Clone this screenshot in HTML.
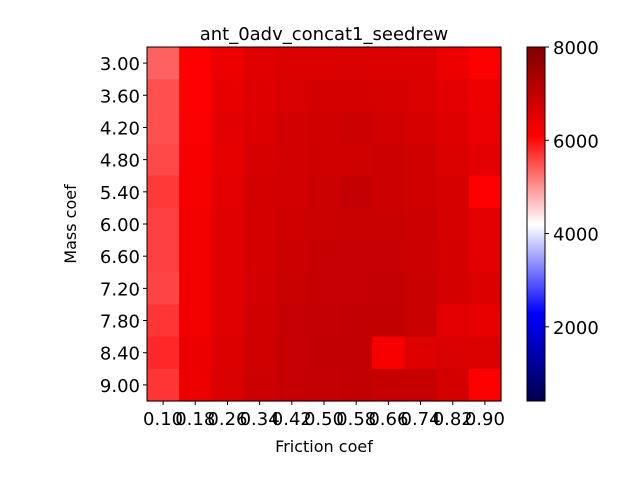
<!DOCTYPE html>
<html><head><meta charset="utf-8"><style>
body{margin:0;background:#fff;}
svg text{font-family:"DejaVu Sans","Liberation Sans",sans-serif;}
</style></head><body>
<svg id="chart" width="640" height="480" xmlns="http://www.w3.org/2000/svg">
<rect width="640" height="480" fill="#fff"/>
<g id="cells"></g>
<g id="axes"></g>
</svg>
<script>
const xLabels=["0.10","0.18","0.26","0.34","0.42","0.50","0.58","0.66","0.74","0.82","0.90"];
const yLabels=["3.00","3.60","4.20","4.80","5.40","6.00","6.60","7.20","7.80","8.40","9.00"];
const cbTicks=[2000,4000,6000,8000];
const vmin=409, vmax=8000;
const values=[
[5388,6102,6385,6563,6653,6653,6683,6653,6623,6385,6176],
[5507,6102,6444,6593,6683,6742,6742,6712,6653,6504,6385],
[5507,6176,6534,6623,6772,6802,6861,6772,6712,6593,6415],
[5566,6206,6474,6712,6772,6831,6831,6861,6802,6653,6504],
[5685,6236,6504,6742,6772,6891,6980,6861,6802,6712,6102],
[5626,6296,6563,6742,6831,6891,6921,6921,6861,6712,6504],
[5626,6296,6563,6742,6861,6950,6950,6950,6861,6742,6534],
[5596,6296,6563,6772,6921,6950,6950,6980,6921,6742,6623],
[5715,6296,6563,6802,6950,6980,7010,7010,6921,6504,6444],
[5804,6385,6623,6831,6950,7010,7010,6206,6593,6683,6653],
[5715,6385,6683,6861,6950,6980,7010,6950,6950,6742,6147]
];
const NS="http://www.w3.org/2000/svg";
const X0=147,Y0=47,W=354,H=354;
const cw=W/xLabels.length, ch=H/yLabels.length;
function seismic(t){
  t=Math.max(0,Math.min(1,t));let r,g,b;
  if(t<0.25){const u=t/0.25;r=0;g=0;b=0.3+0.7*u;}
  else if(t<0.5){const u=(t-0.25)/0.25;r=u;g=u;b=1;}
  else if(t<0.75){const u=(t-0.5)/0.25;r=1;g=1-u;b=1-u;}
  else{const u=(t-0.75)/0.25;r=1-0.5*u;g=0;b=0;}
  return `rgb(${Math.round(r*255)},${Math.round(g*255)},${Math.round(b*255)})`;
}
const norm=v=>(v-vmin)/(vmax-vmin);
function mk(tag,attrs,parent){const e=document.createElementNS(NS,tag);for(const k in attrs)e.setAttribute(k,attrs[k]);parent.appendChild(e);return e;}
const cells=document.getElementById('cells'), axes=document.getElementById('axes');
values.forEach((row,i)=>row.forEach((v,j)=>{
  const r=mk('rect',{x:X0+j*cw,y:Y0+i*ch,width:cw+0.6,height:ch+0.6,fill:seismic(norm(v))},cells);
  
  
}));
let f=mk('rect',{x:X0,y:Y0,width:W,height:H,fill:'none',stroke:'#000','stroke-width':1},axes);


xLabels.forEach((l,j)=>{
  const x=X0+(j+0.5)*cw;
  mk('line',{x1:x,y1:Y0+H,x2:x,y2:Y0+H+4,stroke:'#000'},axes);
  const t=mk('text',{x:x,y:Y0+H+24,'text-anchor':'middle','font-size':18},axes);t.textContent=l;
  
  
});
yLabels.forEach((l,i)=>{
  const y=Y0+(i+0.5)*ch;
  mk('line',{x1:X0-4,y1:y,x2:X0,y2:y,stroke:'#000'},axes);
  const t=mk('text',{x:X0-7,y:y+7,'text-anchor':'end','font-size':18},axes);t.textContent=l;
  
  
});
let tt=mk('text',{x:324,y:40,'text-anchor':'middle','font-size':18},axes);tt.textContent='ant_0adv_concat1_seedrew';


let xt=mk('text',{x:324,y:452,'text-anchor':'middle','font-size':16},axes);xt.textContent='Friction coef';


let yt=mk('text',{x:76,y:224,'text-anchor':'middle','font-size':16,transform:'rotate(-90 76 224)'},axes);yt.textContent='Mass coef';


const CX=527,CW=18,CY0=47,CH=354;
const cb=mk('g',{},axes);


for(let k=0;k<CH;k++){
  mk('rect',{x:CX,y:CY0+CH-k-1,width:CW,height:1.5,fill:seismic((k+0.5)/CH)},cb);
}
mk('rect',{x:CX,y:CY0,width:CW,height:CH,fill:'none',stroke:'#000'},cb);
cbTicks.forEach(v=>{
  const y=CY0+CH-norm(v)*CH;
  mk('line',{x1:CX+CW,y1:y,x2:CX+CW+4,y2:y,stroke:'#000'},cb);
  const t=mk('text',{x:CX+CW+8,y:y+7,'font-size':18},cb);t.textContent=v;
  
  
});
</script>
</body></html>
